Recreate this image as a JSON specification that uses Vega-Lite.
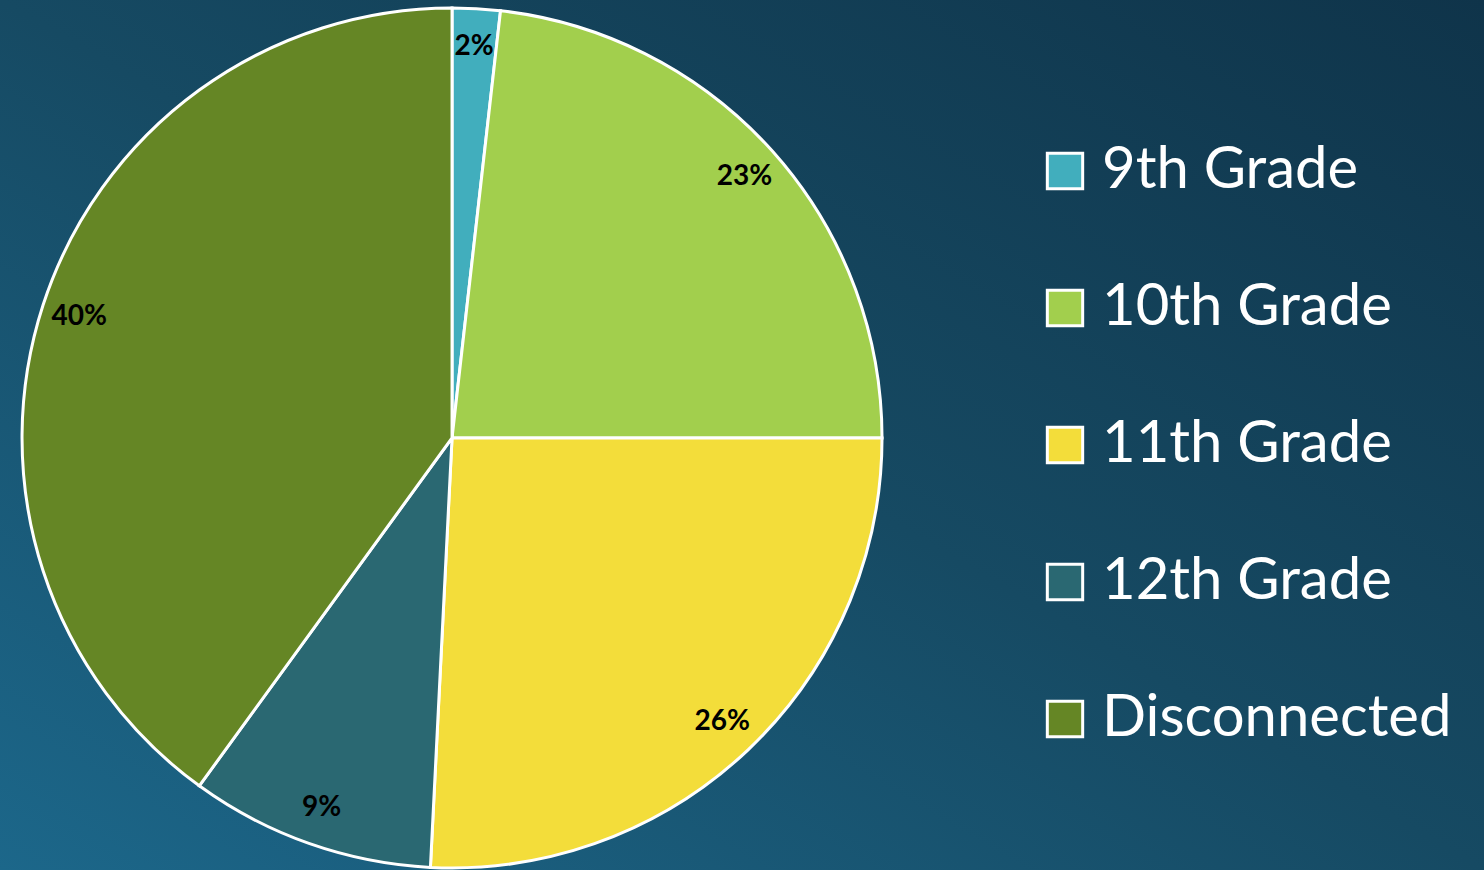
{
  "$schema": "https://vega.github.io/schema/vega-lite/v6.json",
  "width": 1484,
  "height": 870,
  "autosize": "none",
  "padding": 0,
  "background": "#144560",
  "config": {
    "view": {
      "stroke": null,
      "fill": {
        "gradient": "linear",
        "x1": 0, "y1": 1, "x2": 1, "y2": 0,
        "stops": [
          {"offset": 0, "color": "#1c678a"},
          {"offset": 0.5, "color": "#164a63"},
          {"offset": 1, "color": "#0f344a"}
        ]
      }
    },
    "font": "Lato"
  },
  "data": {
    "values": [
      {"category": "9th Grade", "idx": 1, "share": 0.018},
      {"category": "10th Grade", "idx": 2, "share": 0.232},
      {"category": "11th Grade", "idx": 3, "share": 0.258},
      {"category": "12th Grade", "idx": 4, "share": 0.092},
      {"category": "Disconnected", "idx": 5, "share": 0.400}
    ]
  },
  "encoding": {
    "theta": {"field": "share", "type": "quantitative", "stack": true},
    "order": {"field": "idx", "type": "quantitative", "sort": "ascending"},
    "x": {"datum": 0.3046, "type": "quantitative", "scale": {"domain": [0, 1]}, "axis": null},
    "y": {"datum": 0.4966, "type": "quantitative", "scale": {"domain": [0, 1]}, "axis": null}
  },
  "layer": [
    {
      "mark": {"type": "arc", "outerRadius": 430, "stroke": "#ffffff", "strokeWidth": 3, "opacity": 1},
      "encoding": {
        "color": {
          "field": "category",
          "type": "nominal",
          "scale": {
            "domain": ["9th Grade", "10th Grade", "11th Grade", "12th Grade", "Disconnected"],
            "range": ["#41aebd", "#a2cf4d", "#f3dd3a", "#2a6872", "#658625"]
          },
          "legend": {
            "title": null,
            "orient": "none",
            "legendX": 1036,
            "legendY": 142,
            "symbolType": "square",
            "symbolSize": 1250,
            "symbolStrokeColor": "#ffffff",
            "symbolStrokeWidth": 3,
            "symbolOpacity": 1,
            "labelColor": "#ffffff",
            "labelFont": "Lato",
            "labelFontSize": 58,
            "labelOffset": 8,
            "labelLimit": 600,
            "rowPadding": 79,
            "padding": 0
          }
        }
      }
    },
    {
      "mark": {"type": "text", "radius": 392, "font": "Lato", "fontWeight": "bold", "fontSize": 28, "color": "#000000"},
      "encoding": {
        "detail": {"field": "category", "type": "nominal"},
        "text": {"field": "share", "type": "quantitative", "format": ".0%"}
      }
    }
  ]
}
